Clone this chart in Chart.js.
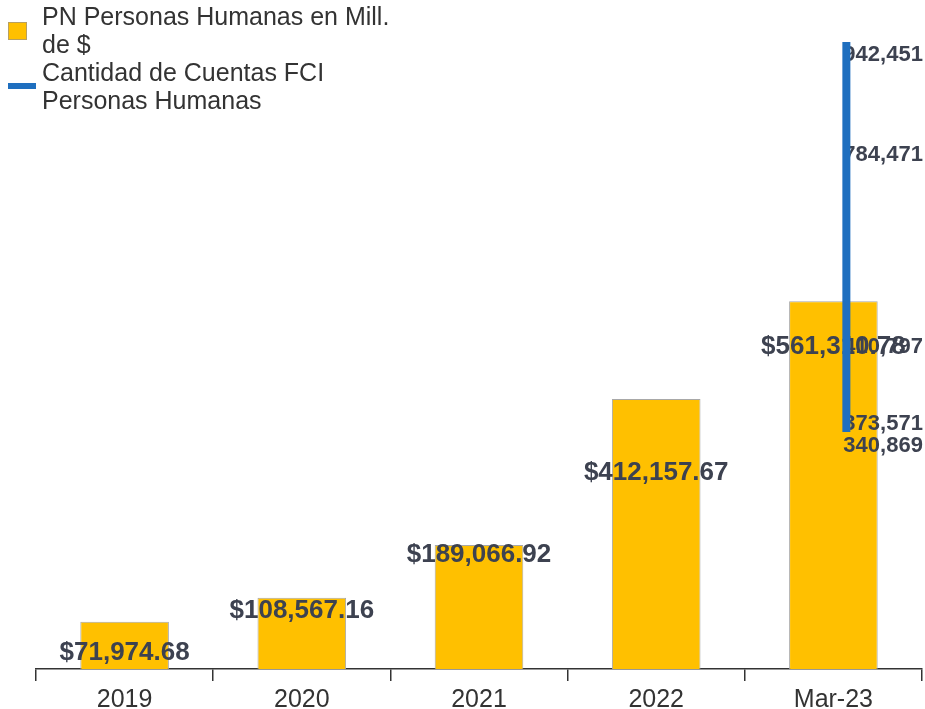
<!DOCTYPE html>
<html>
<head>
<meta charset="utf-8">
<script src="https://cdn.jsdelivr.net/npm/chart.js@4"></script>
<style>
  html, body { margin: 0; padding: 0; background: #ffffff; }
  #wrap { position: relative; width: 925px; height: 709px; }
</style>
</head>
<body>
<div id="wrap"><canvas id="c"></canvas></div>
<script>
const categories = ['2019', '2020', '2021', '2022', 'Mar-23'];
const barLabel = 'PN Personas Humanas en Mill. de $';
const barValues = [71974.68, 108567.16, 189066.92, 412157.67, 561310.78];
const lineLabel = 'Cantidad de Cuentas FCI Personas Humanas';
const lineValues = [340869, 373571, 410797, 784471, 942451];

const lineIndex = categories.length - 1;

const fmtMoney = v => '$' + v.toLocaleString('en-US', {minimumFractionDigits: 2, maximumFractionDigits: 2});
const fmtInt = v => v.toLocaleString('en-US');

const labelsPlugin = {
  id: 'valueLabels',
  afterDatasetDraw(chart, args, opts) {
    if (args.index !== 0) return;
    const ctx = chart.ctx;
    const ys = chart.scales.y;
    ctx.save();
    ctx.fillStyle = '#3d4250';
    ctx.textBaseline = 'middle';
    ctx.textAlign = 'center';
    ctx.font = 'bold 26px "Liberation Sans", Arial, sans-serif';
    chart.getDatasetMeta(0).data.forEach((bar, i) => {
      ctx.fillText(fmtMoney(barValues[i]), bar.x, bar.y + opts.barShift[i]);
    });
    ctx.textAlign = 'left';
    ctx.font = 'bold 22px "Liberation Sans", Arial, sans-serif';
    chart.getDatasetMeta(1).data.forEach((pt, i) => {
      ctx.fillText(fmtInt(lineValues[i]), pt.x - 3, ys.getPixelForValue(lineValues[i]) + opts.lineShift[i]);
    });
    ctx.restore();
  }
};

const legendPlugin = {
  id: 'sideLegend',
  afterDraw(chart) {
    const ctx = chart.ctx;
    ctx.save();
    ctx.fillStyle = '#FFC000';
    ctx.fillRect(8, 22, 19, 18);
    ctx.strokeStyle = '#b8a060';
    ctx.lineWidth = 1;
    ctx.strokeRect(8.5, 22.5, 18, 17);
    ctx.fillStyle = '#1f6fbf';
    ctx.fillRect(8, 83, 28, 6);
    ctx.fillStyle = '#333333';
    ctx.font = '25px "Liberation Sans", Arial, sans-serif';
    ctx.textAlign = 'left';
    ctx.textBaseline = 'alphabetic';
    ctx.fillText('PN Personas Humanas en Mill.', 42, 25);
    ctx.fillText('de $', 42, 53);
    ctx.fillText('Cantidad de Cuentas FCI', 42, 81);
    ctx.fillText('Personas Humanas', 42, 109);
    ctx.restore();
  }
};

new Chart(document.getElementById('c'), {
  data: {
    labels: categories,
    datasets: [
      {
        type: 'bar',
        label: barLabel,
        data: barValues,
        backgroundColor: '#FFC000',
        borderColor: '#a8a8a8',
        borderWidth: 1,
        barPercentage: 0.5,
        categoryPercentage: 1,
        grouped: false,
        order: 1,
        xAxisID: 'x',
        yAxisID: 'y'
      },
      {
        type: 'line',
        label: lineLabel,
        data: lineValues.map(v => ({x: lineIndex, y: v})),
        borderColor: '#1f6fbf',
        backgroundColor: '#1f6fbf',
        borderWidth: 8,
        borderCapStyle: 'butt',
        pointRadius: 0,
        tension: 0,
        fill: false,
        order: 0,
        xAxisID: 'x2',
        yAxisID: 'y2'
      }
    ]
  },
  options: {
    responsive: true,
    maintainAspectRatio: false,
    animation: false,
    layout: { padding: { top: 30, left: 36, right: 3, bottom: 0 } },
    plugins: {
      legend: { display: false },
      tooltip: { enabled: false },
      valueLabels: {
        barShift: [31, 13, 10, 74, 46],
        lineShift: [0, 0, -53, 0, 4]
      }
    },
    scales: {
      x: {
        type: 'category',
        offset: true,
        afterFit: (scale) => { scale.height = 40; },
        border: { display: true, color: '#333333', width: 1.5 },
        grid: { display: true, offset: true, drawOnChartArea: false, drawTicks: true, tickLength: 12, color: '#333333', lineWidth: 1.5 },
        ticks: { color: '#333333', padding: 4, font: { family: '"Liberation Sans", Arial, sans-serif', size: 25, lineHeight: 1.2 } }
      },
      x2: {
        type: 'linear',
        display: false,
        min: -0.5,
        max: lineIndex + 0.42
      },
      y: {
        display: false,
        min: 0,
        max: 975000
      },
      y2: {
        display: false,
        position: 'right',
        min: -25000,
        max: 961000
      }
    }
  },
  plugins: [labelsPlugin, legendPlugin]
});
</script>
</body>
</html>
